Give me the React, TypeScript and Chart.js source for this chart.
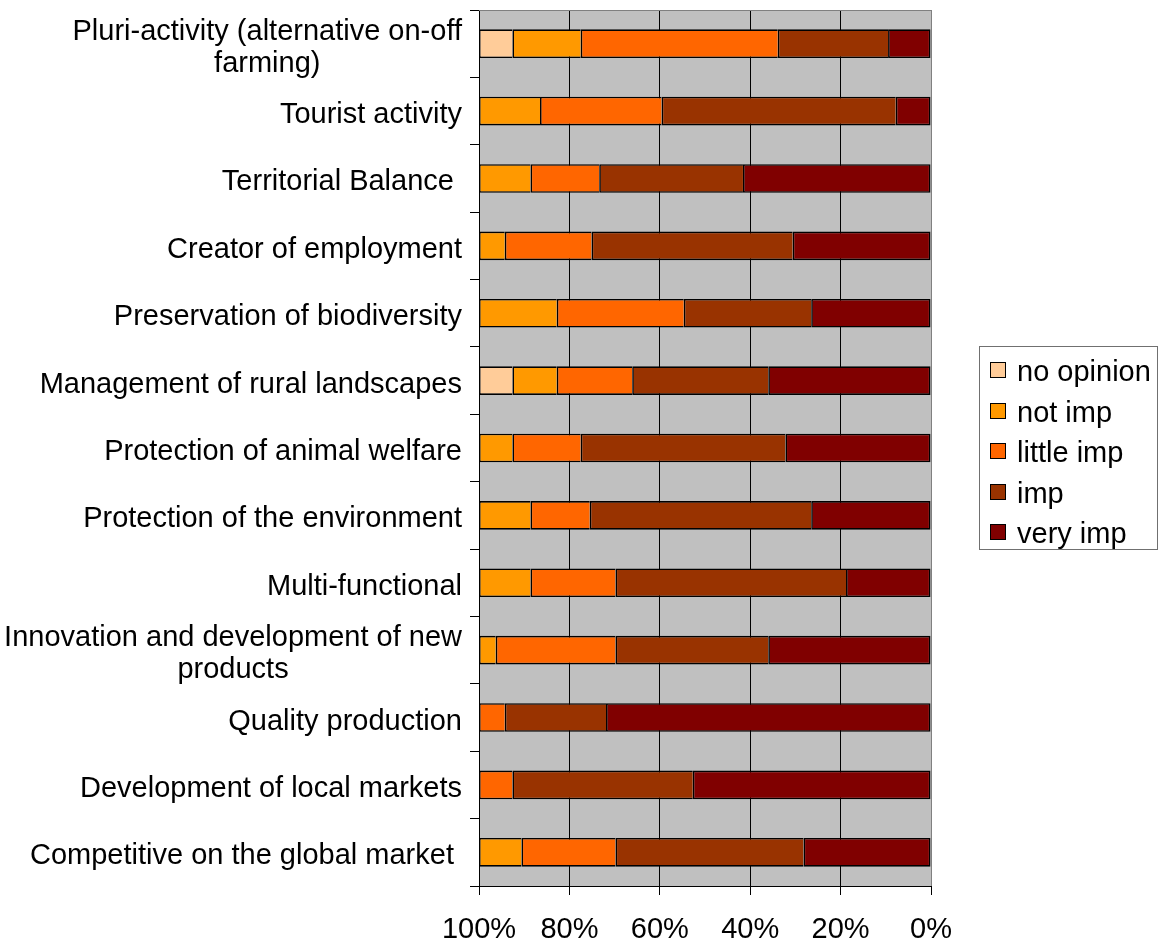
import React, { useEffect, useRef } from 'react';
import { Chart, registerables } from 'chart.js';

Chart.register(...registerables);

const FONT_FAMILY = '"Liberation Sans", Arial, Helvetica, sans-serif';
const FONT_SIZE = 29;

// Category labels (multi-line ones are given as separate lines)
const categories: string[][] = [
  ['Pluri-activity (alternative on-off', 'farming)'],
  ['Tourist activity'],
  ['Territorial Balance '],
  ['Creator of employment'],
  ['Preservation of biodiversity'],
  ['Management of rural landscapes'],
  ['Protection of animal welfare'],
  ['Protection of the environment'],
  ['Multi-functional'],
  ['Innovation and development of new', 'products'],
  ['Quality production'],
  ['Development of local markets'],
  ['Competitive on the global market '],
];

// Share of answers (%) per category
const veryImp = [9.5, 7.8, 41.6, 30.6, 26.5, 36.0, 32.2, 26.5, 18.8, 36.0, 71.9, 52.7, 28.2];
const imp = [24.4, 51.8, 31.8, 44.5, 28.2, 30.1, 45.3, 49.0, 51.0, 33.8, 22.4, 39.9, 41.6];
const littleImp = [43.6, 26.9, 15.2, 19.2, 28.1, 16.7, 15.1, 13.1, 18.8, 26.5, 5.7, 7.4, 20.8];
const notImp = [15.1, 13.5, 11.4, 5.7, 17.2, 9.8, 7.4, 11.4, 11.4, 3.7, 0, 0, 9.4];
const noOpinion = [7.4, 0, 0, 0, 0, 7.4, 0, 0, 0, 0, 0, 0, 0];

const xTicks = [0, 20, 40, 60, 80, 100];

// Series, in stacking order starting from 0% (right edge)
const seriesNames = ['very imp', 'imp', 'little imp', 'not imp', 'no opinion'];
const seriesValues = [veryImp, imp, littleImp, notImp, noOpinion];
const seriesColors = ['#800000', '#993300', '#FF6600', '#FF9900', '#FFCC99'];

const plotBackground = {
  id: 'plotBackground',
  beforeDraw(chart: any) {
    const { ctx, chartArea } = chart;
    ctx.save();
    ctx.fillStyle = '#C0C0C0';
    ctx.fillRect(chartArea.left, chartArea.top, chartArea.right - chartArea.left, chartArea.bottom - chartArea.top);
    ctx.restore();
  },
  afterDraw(chart: any) {
    const { ctx, chartArea } = chart;
    ctx.save();
    ctx.strokeStyle = '#808080';
    ctx.lineWidth = 1;
    ctx.beginPath();
    ctx.moveTo(chartArea.left, chartArea.top + 0.5);
    ctx.lineTo(chartArea.right + 1, chartArea.top + 0.5);
    ctx.stroke();
    ctx.restore();
  },
};

// Category labels: right-aligned blocks, wrapped lines centred within the block
const categoryLabels = {
  id: 'categoryLabels',
  afterDraw(chart: any) {
    const { ctx } = chart;
    const yScale = chart.scales.y;
    const right = yScale.right - 17;
    const lineHeight = 32;
    ctx.save();
    ctx.font = `${FONT_SIZE}px ${FONT_FAMILY}`;
    ctx.fillStyle = '#000';
    ctx.textAlign = 'center';
    ctx.textBaseline = 'alphabetic';
    (chart.data.labels as string[][]).forEach((lines, i) => {
      const cy = yScale.getPixelForTick(i);
      const w = Math.max(...lines.map((l) => ctx.measureText(l).width));
      const cx = right - w / 2;
      const base = cy + 12 - ((lines.length - 1) * lineHeight) / 2;
      lines.forEach((l, j) => ctx.fillText(l, cx, base + j * lineHeight));
    });
    ctx.restore();
  },
};

// Boxed legend to the right of the plot
const boxedLegend = {
  id: 'boxedLegend',
  afterDraw(chart: any) {
    const { ctx, chartArea } = chart;
    const items = chart.data.datasets.slice().reverse();
    const boxW = 178;
    const rowH = 40.6;
    const boxH = 203;
    const left = chartArea.right + 48;
    const top = Math.round((chartArea.top + chartArea.bottom) / 2 - boxH / 2) - 1;
    ctx.save();
    ctx.fillStyle = '#FFFFFF';
    ctx.fillRect(left + 0.5, top + 0.5, boxW, boxH);
    ctx.strokeStyle = '#707070';
    ctx.lineWidth = 1;
    ctx.strokeRect(left + 0.5, top + 0.5, boxW, boxH);
    ctx.font = `${FONT_SIZE}px ${FONT_FAMILY}`;
    ctx.textAlign = 'left';
    ctx.textBaseline = 'alphabetic';
    items.forEach((ds: any, i: number) => {
      const sq = 15;
      const sy = top + 16 + i * rowH;
      const sx = left + 11;
      ctx.fillStyle = ds.backgroundColor;
      ctx.fillRect(sx + 0.5, Math.round(sy) + 0.5, sq, sq);
      ctx.strokeStyle = '#000';
      ctx.strokeRect(sx + 0.5, Math.round(sy) + 0.5, sq, sq);
      ctx.fillStyle = '#000';
      ctx.fillText(ds.label, left + 38, sy + 19);
    });
    ctx.restore();
  },
};

export default function App() {
  const canvasRef = useRef<HTMLCanvasElement | null>(null);

  useEffect(() => {
    if (!canvasRef.current) return;
    Chart.defaults.font.family = FONT_FAMILY;
    Chart.defaults.color = '#000';

    const datasets = seriesNames.map((name, i) => ({
      label: name,
      data: seriesValues[i],
      backgroundColor: seriesColors[i],
      borderColor: '#000',
      borderWidth: 1.6,
      borderSkipped: i === 0 ? false : ('start' as const),
      inflateAmount: 0,
      categoryPercentage: 1,
      barPercentage: 0.425,
    }));

    const chart = new Chart(canvasRef.current, {
      type: 'bar',
      data: { labels: categories, datasets },
      options: {
        indexAxis: 'y',
        animation: false,
        responsive: false,
        devicePixelRatio: 1,
        layout: { padding: { top: 10, right: 228, bottom: 0, left: 0 } },
        plugins: {
          legend: { display: false },
          tooltip: { enabled: false },
        },
        scales: {
          x: {
            type: 'linear',
            stacked: true,
            reverse: true,
            min: 0,
            max: 100,
            afterBuildTicks: (scale: any) => {
              scale.ticks = xTicks.map((v) => ({ value: v }));
            },
            ticks: {
              callback: (v: any) => `${v}%`,
              color: '#000',
              font: { size: FONT_SIZE, family: FONT_FAMILY },
              padding: 18,
              maxRotation: 0,
              autoSkip: false,
            },
            grid: {
              color: (c: any) => (c.tick && c.tick.value === 0 ? '#808080' : '#000000'),
              tickColor: '#000000',
              lineWidth: 1,
              tickLength: 9,
            },
            border: { display: true, color: '#000', width: 1 },
            afterFit: (scale: any) => {
              scale.height = 55;
            },
          },
          y: {
            type: 'category',
            stacked: true,
            ticks: { display: false },
            grid: {
              drawOnChartArea: false,
              offset: true,
              color: '#000',
              tickColor: '#000',
              tickLength: 9,
            },
            border: { display: true, color: '#000', width: 1 },
            afterFit: (scale: any) => {
              scale.width = 479;
            },
          },
        },
      },
      plugins: [plotBackground, categoryLabels, boxedLegend],
    });

    return () => chart.destroy();
  }, []);

  return (
    <div style={{ position: 'absolute', left: 0, top: 0, width: 1159, height: 941, background: '#fff' }}>
      <canvas ref={canvasRef} width={1159} height={941} style={{ display: 'block' }} />
    </div>
  );
}
